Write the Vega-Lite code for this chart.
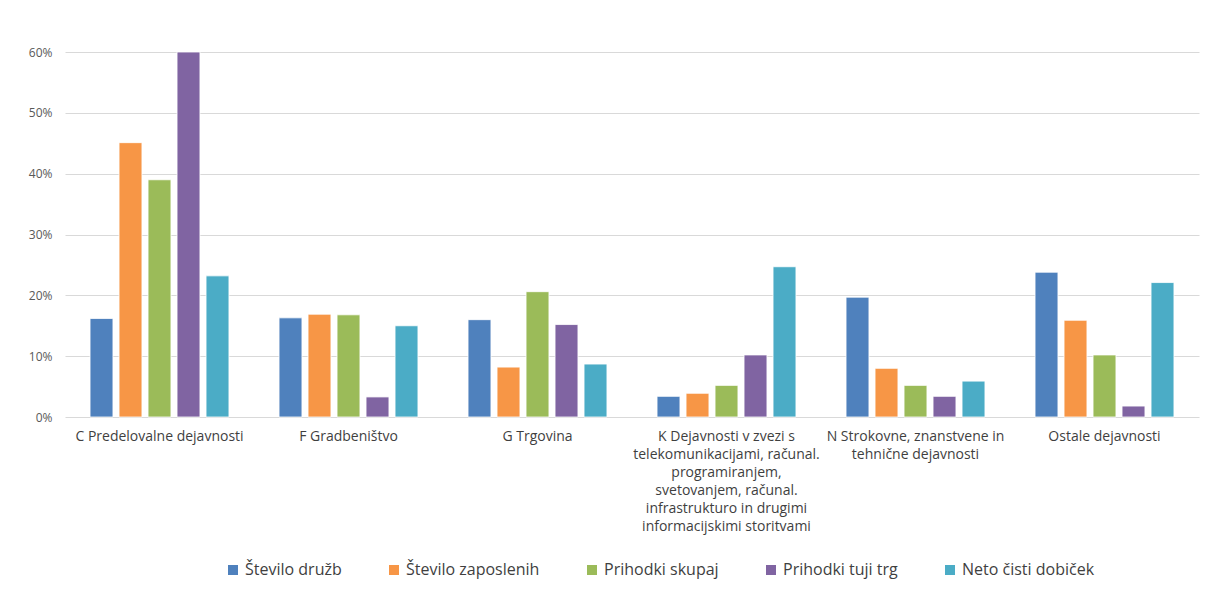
{
  "$schema": "https://vega.github.io/schema/vega-lite/v6.json",
  "autosize": {"type": "none"},
  "width": 1134,
  "height": 365,
  "padding": {"left": 65, "top": 52, "right": 7, "bottom": 184},
  "background": "white",
  "config": {
    "view": {"stroke": null},
    "font": "Open Sans"
  },
  "data": {
    "values": [
      {"dejavnost": "C Predelovalne dejavnosti", "serija": "Število družb", "delez": 0.162},
      {"dejavnost": "C Predelovalne dejavnosti", "serija": "Število zaposlenih", "delez": 0.451},
      {"dejavnost": "C Predelovalne dejavnosti", "serija": "Prihodki skupaj", "delez": 0.390},
      {"dejavnost": "C Predelovalne dejavnosti", "serija": "Prihodki tuji trg", "delez": 0.600},
      {"dejavnost": "C Predelovalne dejavnosti", "serija": "Neto čisti dobiček", "delez": 0.232},
      {"dejavnost": "F Gradbeništvo", "serija": "Število družb", "delez": 0.163},
      {"dejavnost": "F Gradbeništvo", "serija": "Število zaposlenih", "delez": 0.169},
      {"dejavnost": "F Gradbeništvo", "serija": "Prihodki skupaj", "delez": 0.168},
      {"dejavnost": "F Gradbeništvo", "serija": "Prihodki tuji trg", "delez": 0.033},
      {"dejavnost": "F Gradbeništvo", "serija": "Neto čisti dobiček", "delez": 0.150},
      {"dejavnost": "G Trgovina", "serija": "Število družb", "delez": 0.160},
      {"dejavnost": "G Trgovina", "serija": "Število zaposlenih", "delez": 0.082},
      {"dejavnost": "G Trgovina", "serija": "Prihodki skupaj", "delez": 0.206},
      {"dejavnost": "G Trgovina", "serija": "Prihodki tuji trg", "delez": 0.152},
      {"dejavnost": "G Trgovina", "serija": "Neto čisti dobiček", "delez": 0.087},
      {"dejavnost": "K Dejavnosti v zvezi s|telekomunikacijami, računal.|programiranjem,|svetovanjem, računal.|infrastrukturo in drugimi|informacijskimi storitvami", "serija": "Število družb", "delez": 0.034},
      {"dejavnost": "K Dejavnosti v zvezi s|telekomunikacijami, računal.|programiranjem,|svetovanjem, računal.|infrastrukturo in drugimi|informacijskimi storitvami", "serija": "Število zaposlenih", "delez": 0.039},
      {"dejavnost": "K Dejavnosti v zvezi s|telekomunikacijami, računal.|programiranjem,|svetovanjem, računal.|infrastrukturo in drugimi|informacijskimi storitvami", "serija": "Prihodki skupaj", "delez": 0.052},
      {"dejavnost": "K Dejavnosti v zvezi s|telekomunikacijami, računal.|programiranjem,|svetovanjem, računal.|infrastrukturo in drugimi|informacijskimi storitvami", "serija": "Prihodki tuji trg", "delez": 0.102},
      {"dejavnost": "K Dejavnosti v zvezi s|telekomunikacijami, računal.|programiranjem,|svetovanjem, računal.|infrastrukturo in drugimi|informacijskimi storitvami", "serija": "Neto čisti dobiček", "delez": 0.247},
      {"dejavnost": "N Strokovne, znanstvene in|tehnične dejavnosti", "serija": "Število družb", "delez": 0.197},
      {"dejavnost": "N Strokovne, znanstvene in|tehnične dejavnosti", "serija": "Število zaposlenih", "delez": 0.080},
      {"dejavnost": "N Strokovne, znanstvene in|tehnične dejavnosti", "serija": "Prihodki skupaj", "delez": 0.052},
      {"dejavnost": "N Strokovne, znanstvene in|tehnične dejavnosti", "serija": "Prihodki tuji trg", "delez": 0.034},
      {"dejavnost": "N Strokovne, znanstvene in|tehnične dejavnosti", "serija": "Neto čisti dobiček", "delez": 0.059},
      {"dejavnost": "Ostale dejavnosti", "serija": "Število družb", "delez": 0.238},
      {"dejavnost": "Ostale dejavnosti", "serija": "Število zaposlenih", "delez": 0.159},
      {"dejavnost": "Ostale dejavnosti", "serija": "Prihodki skupaj", "delez": 0.102},
      {"dejavnost": "Ostale dejavnosti", "serija": "Prihodki tuji trg", "delez": 0.018},
      {"dejavnost": "Ostale dejavnosti", "serija": "Neto čisti dobiček", "delez": 0.221}
    ]
  },
  "mark": {"type": "bar", "stroke": "white", "strokeWidth": 0.8},
  "encoding": {
    "x": {
      "field": "dejavnost",
      "type": "nominal",
      "sort": null,
      "title": null,
      "scale": {"paddingInner": 0.265, "paddingOuter": 0.1325},
      "axis": {
        "labelExpr": "split(datum.label, '|')",
        "labelAngle": 0,
        "labelFontSize": 14,
        "labelColor": "#3f3f3f",
        "labelLineHeight": 18,
        "labelPadding": 12,
        "labelLimit": 300,
        "ticks": false,
        "domain": false,
        "grid": false
      }
    },
    "xOffset": {
      "field": "serija",
      "type": "nominal",
      "sort": ["Število družb", "Število zaposlenih", "Prihodki skupaj", "Prihodki tuji trg", "Neto čisti dobiček"],
      "scale": {"paddingInner": 0.21, "paddingOuter": 0}
    },
    "y": {
      "field": "delez",
      "type": "quantitative",
      "title": null,
      "scale": {"domain": [0, 0.6], "nice": false},
      "axis": {
        "format": ".0%",
        "values": [0, 0.1, 0.2, 0.3, 0.4, 0.5, 0.6],
        "labelFontSize": 12,
        "labelColor": "#595959",
        "labelPadding": 13,
        "ticks": false,
        "domain": false,
        "gridColor": "#d9d9d9",
        "gridWidth": 1
      }
    },
    "color": {
      "field": "serija",
      "type": "nominal",
      "title": null,
      "scale": {
        "domain": ["Število družb", "Število zaposlenih", "Prihodki skupaj", "Prihodki tuji trg", "Neto čisti dobiček"],
        "range": ["#4F81BD", "#F79646", "#9BBB59", "#8064A2", "#4BACC6"]
      },
      "legend": {
        "orient": "none",
        "direction": "horizontal",
        "legendX": 160,
        "legendY": 510,
        "symbolType": "square",
        "symbolSize": 100,
        "symbolStrokeWidth": 0,
        "labelFontSize": 16,
        "labelColor": "#3f3f3f",
        "labelOffset": 4,
        "columnPadding": 44
      }
    }
  }
}
